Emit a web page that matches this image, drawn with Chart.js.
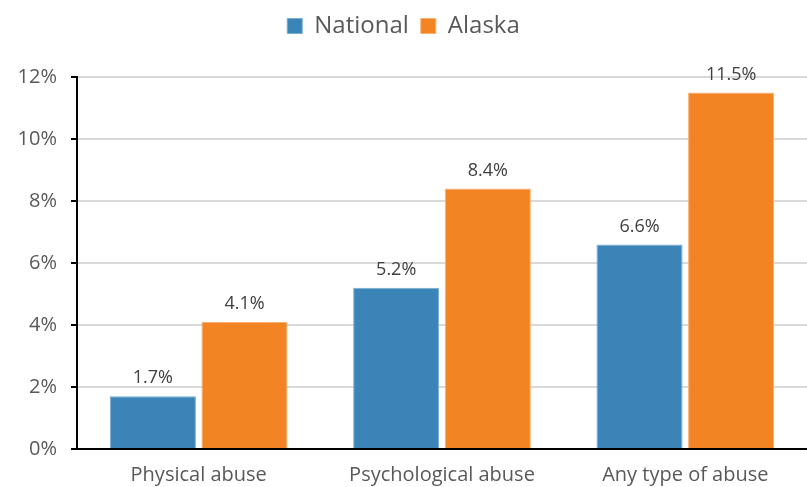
<!DOCTYPE html>
<html>
<head>
<meta charset="utf-8">
<script src="https://cdn.jsdelivr.net/npm/chart.js@4"></script>
<style>
  html, body { margin: 0; padding: 0; background: #ffffff; }
  #wrap { width: 807px; height: 487px; }
</style>
</head>
<body>
<div id="wrap"><canvas id="chart"></canvas></div>
<script>
const categories = ['Physical abuse', 'Psychological abuse', 'Any type of abuse']
const nationalValues = [1.7, 5.2, 6.6]
const alaskaValues = [4.1, 8.4, 11.5]
const yTicks = [0, 2, 4, 6, 8, 10, 12]

const FONT = '"Open Sans", "Noto Sans", sans-serif'
const GREY = '#595959'

// draw the value above each bar
const barLabels = {
  id: 'barLabels',
  afterDatasetsDraw(chart) {
    const ctx = chart.ctx
    ctx.save()
    ctx.font = '18px ' + FONT
    ctx.fillStyle = '#404040'
    ctx.textAlign = 'center'
    ctx.textBaseline = 'bottom'
    chart.data.datasets.forEach((ds, i) => {
      chart.getDatasetMeta(i).data.forEach((bar, j) => {
        ctx.fillText(ds.data[j].toFixed(1) + '%', bar.x, bar.y - 9)
      })
    })
    ctx.restore()
  }
}

// extra room below the legend
const legendGap = {
  id: 'legendGap',
  beforeInit(chart) {
    const fit = chart.legend.fit
    chart.legend.fit = function () {
      fit.bind(chart.legend)()
      this.height += 29
    }
  }
}

new Chart(document.getElementById('chart'), {
  type: 'bar',
  data: {
    labels: categories,
    datasets: [
      { label: 'National', data: nationalValues, backgroundColor: '#3b84b8', borderColor: '#7aaed3', borderWidth: 1 },
      { label: 'Alaska', data: alaskaValues, backgroundColor: '#f38424', borderColor: '#f8b070', borderWidth: 1 },
    ],
  },
  options: {
    responsive: true,
    maintainAspectRatio: false,
    animation: false,
    datasets: { bar: { categoryPercentage: 0.753, barPercentage: 0.94 } },
    layout: { padding: { top: 2, right: 0, bottom: 0, left: 0 } },
    plugins: {
      legend: {
        position: 'top',
        labels: {
          font: { family: FONT, size: 24 },
          color: GREY,
          boxWidth: 15,
          boxHeight: 15,
          padding: 12,
          useBorderRadius: false,
        },
      },
      tooltip: { enabled: false },
    },
    scales: {
      x: {
        grid: { display: false, drawTicks: false },
        border: { display: true, color: '#000', width: 2 },
        afterFit(axis) { axis.height = 38 },
        ticks: { font: { family: FONT, size: 20 }, color: GREY, padding: 14 },
      },
      y: {
        min: 0,
        max: 12,
        afterBuildTicks(axis) { axis.ticks = yTicks.map(v => ({ value: v })) },
        afterFit(axis) { axis.width = 77 },
        grid: { color: '#d9d9d9', lineWidth: 2, tickLength: 6, tickColor: '#000' },
        border: { display: true, color: '#000', width: 2 },
        ticks: {
          font: { family: FONT, size: 20 },
          color: GREY,
          padding: 14,
          callback: v => v + '%',
        },
      },
    },
  },
  plugins: [barLabels, legendGap],
})
</script>
</body>
</html>
